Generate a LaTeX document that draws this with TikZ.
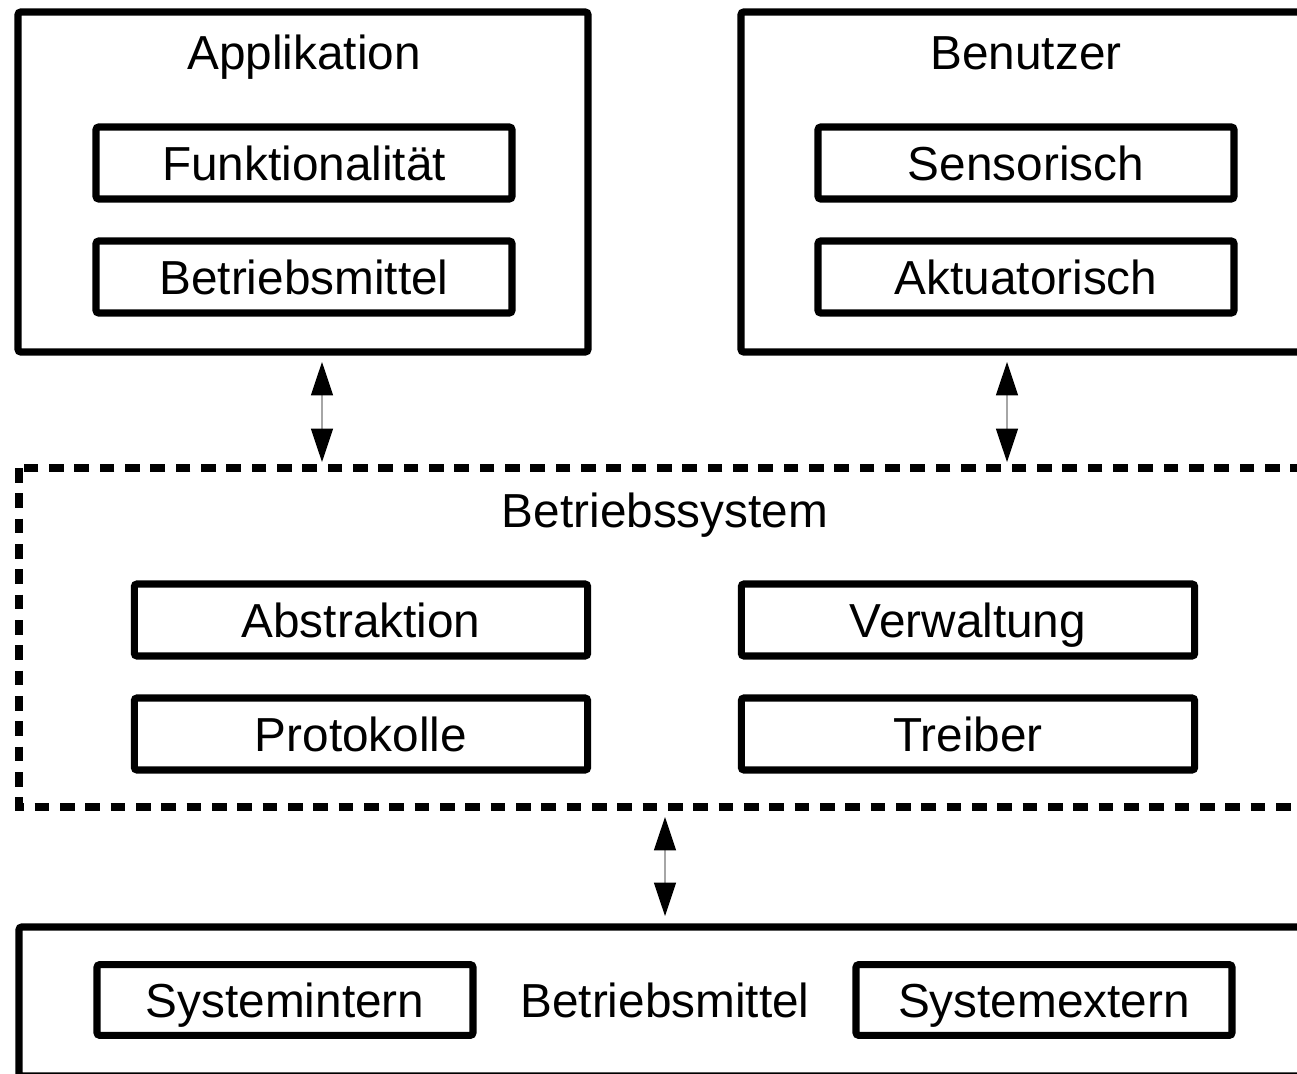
\documentclass[tikz,border=0pt]{standalone}
\usepackage{fontspec}
\setmainfont{Liberation Sans}
\usetikzlibrary{arrows.meta,calc}
\begin{document}
\begin{tikzpicture}[x=0.75pt,y=-0.75pt,
  txt/.style={font=\fontsize{35.8}{43}\selectfont, text height=25.6pt, text depth=0pt, inner sep=0pt},
  frame/.style={draw, line width=5.3pt, rounded corners=2pt},
  dashframe/.style={draw, line width=5.6pt, dash pattern=on 11pt off 8pt},
  item/.style={frame, txt, minimum width=312pt, minimum height=54pt},
  biarrow/.style={draw=gray!70, line width=0.8pt, {Triangle[width=16.5pt,length=25pt,color=black]}-{Triangle[width=16.5pt,length=25pt,color=black]}}]
  \useasboundingbox (0,0) rectangle (1297,1074);
  \clip (0,0) rectangle (1297,1074);
  \fill[white] (0,0) rectangle (1297,1074);

  % Applikation
  \draw[frame] (18,12) rectangle (588,352);
  \node[txt] (appT) at (304,52) {Applikation};
  \node[item] (funk) at (304,163) {Funktionalität};
  \node[item] (bmA)  at (304,277) {Betriebsmittel};

  % Benutzer
  \draw[frame] (741,12) rectangle (1312,352);
  \node[txt] (benT) at (1026,52) {Benutzer};
  \node[item] (sens) at (1026,163) {Sensorisch};
  \node[item] (akt)  at (1026,277) {Aktuatorisch};

  % Betriebssystem
  \draw[dashframe] (19,468) rectangle (1311,807);
  \node[txt] (bsT) at (665,510) {Betriebssystem};
  \node[item, minimum width=340pt] (abs)  at (361,620) {Abstraktion};
  \node[item, minimum width=340pt] (prot) at (361,734) {Protokolle};
  \node[item, minimum width=340pt] (verw) at (968,620) {Verwaltung};
  \node[item, minimum width=340pt] (treib) at (968,734) {Treiber};

  % Betriebsmittel
  \draw[frame] (19,927) rectangle (1311,1076);
  \node[item, minimum width=282pt, minimum height=53pt] (sint) at (285,1000) {Systemintern};
  \node[txt] (bmT) at (665,1000) {Betriebsmittel};
  \node[item, minimum width=282pt, minimum height=53pt] (sext) at (1044,1000) {Systemextern};

  % connectors
  \coordinate (a1s) at (322,362);
  \coordinate (a1e) at (322,462);
  \coordinate (a2s) at (1007,362);
  \coordinate (a2e) at (1007,462);
  \coordinate (a3s) at (665,817);
  \coordinate (a3e) at (665,916);
  \draw[biarrow] (a1s) -- (a1e);
  \draw[biarrow] (a2s) -- (a2e);
  \draw[biarrow] (a3s) -- (a3e);
\end{tikzpicture}
\end{document}
